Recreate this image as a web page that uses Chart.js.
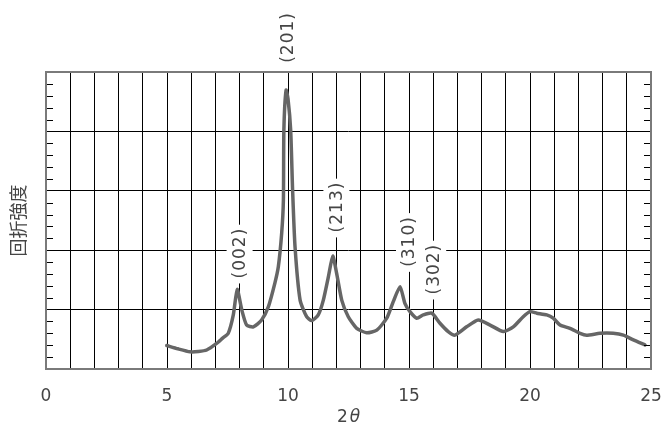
<!DOCTYPE html>
<html>
<head>
<meta charset="utf-8">
<script src="https://cdn.jsdelivr.net/npm/chart.js@4.4.1/dist/chart.umd.min.js"></script>
<style>
  html, body { margin: 0; padding: 0; background: #fff; }
  #wrap { width: 666px; height: 428px; }
</style>
</head>
<body>
<div id="wrap"><canvas id="xrd" width="666" height="428"></canvas></div>
<script>
// 2θ (degrees) and diffraction intensity (arbitrary units, 0–100)
const twoTheta = [4.99, 5.45, 5.95, 6.30, 6.64, 7.05, 7.30, 7.53, 7.74, 7.90, 8.09, 8.29, 8.57, 8.91, 9.19, 9.46, 9.60, 9.74, 9.81, 9.83, 9.92, 10.00, 10.11, 10.19, 10.29, 10.50, 10.77, 10.98, 11.25, 11.46, 11.67, 11.85, 12.01, 12.22, 12.49, 12.84, 13.25, 13.67, 14.08, 14.35, 14.63, 14.83, 15.04, 15.32, 15.59, 15.94, 16.28, 16.62, 16.90, 17.38, 17.86, 18.35, 18.90, 19.31, 19.72, 20.00, 20.28, 20.69, 20.96, 21.24, 21.65, 22.07, 22.34, 22.89, 23.44, 23.86, 24.27, 24.75];
const intensity = [7.9, 6.8, 5.8, 5.9, 6.4, 8.6, 10.4, 12.0, 18.2, 26.8, 19.9, 14.8, 14.2, 16.5, 21.0, 29.0, 34.4, 45.8, 56.9, 80.5, 93.9, 91.0, 80.5, 60.3, 41.2, 23.2, 17.6, 16.3, 18.2, 23.2, 31.1, 38.0, 32.2, 23.2, 17.6, 13.7, 12.2, 13.1, 17.1, 22.7, 27.7, 22.1, 19.3, 17.1, 18.2, 18.8, 15.4, 12.6, 11.4, 14.2, 16.5, 14.8, 12.6, 14.2, 17.6, 19.3, 18.8, 18.2, 17.1, 14.8, 13.7, 12.0, 11.4, 12.0, 12.0, 11.4, 9.8, 8.1];

// Miller-index annotations: text, 2θ position, vertical centre (intensity units)
const peakLabels = ['(002)', '(201)', '(213)', '(310)', '(302)'];
const peakLabelX = [8, 10, 12, 15, 16];
const peakLabelY = [38.7, 111.3, 54.2, 42.6, 33.3];

const xTickStep = 1;
const xLabelEvery = 5;
const yMajorStep = 20;
const yMinorStep = 4;

const axisTitleX = '2';
const axisTitleXGreek = 'θ';
const axisTitleY = '回折強度';

const TEXT = '#454545';
const FRAME = '#7a7a7a';
const NUM_FONT = '"DejaVu Sans", sans-serif';

const decorations = {
  id: 'decorations',
  afterDraw(chart) {
    const { ctx, chartArea: a, scales } = chart;
    const xs = scales.x, ys = scales.y;
    ctx.save();

    // inward minor ticks on left and right edges
    ctx.strokeStyle = '#000';
    ctx.lineWidth = 1;
    ctx.beginPath();
    for (let v = ys.min; v <= ys.max + 1e-9; v += yMinorStep) {
      if (Math.abs(v % yMajorStep) < 1e-9) continue;
      const py = Math.round(ys.getPixelForValue(v)) + 0.5;
      ctx.moveTo(a.left, py); ctx.lineTo(a.left + 7, py);
      ctx.moveTo(a.right - 7, py); ctx.lineTo(a.right, py);
    }
    ctx.stroke();

    // plot frame
    ctx.strokeStyle = FRAME;
    ctx.lineWidth = 2;
    ctx.strokeRect(a.left, a.top, a.right - a.left, a.bottom - a.top);

    // rotated peak annotations on white boxes
    ctx.font = '17px ' + NUM_FONT;
    ctx.letterSpacing = '1px';
    ctx.textAlign = 'center';
    ctx.textBaseline = 'middle';
    peakLabels.forEach((t, i) => {
      const px = xs.getPixelForValue(peakLabelX[i]);
      const py = ys.getPixelForValue(peakLabelY[i]);
      const w = ctx.measureText(t).width;
      ctx.save();
      ctx.translate(px, py);
      ctx.rotate(-Math.PI / 2);
      ctx.fillStyle = '#fff';
      ctx.fillRect(-w / 2 - 4, -13, w + 8, 26);
      ctx.fillStyle = TEXT;
      ctx.fillText(t, 1, 1);
      ctx.restore();
    });
    ctx.letterSpacing = '0px';

    // x axis title: upright "2", italic theta
    const cx = (a.left + a.right) / 2;
    ctx.textBaseline = 'middle';
    ctx.textAlign = 'left';
    ctx.font = '17px ' + NUM_FONT;
    const w2 = ctx.measureText(axisTitleX).width;
    ctx.font = 'italic 17px ' + NUM_FONT;
    const wt = ctx.measureText(axisTitleXGreek).width;
    let sx = cx - (w2 + wt + 2) / 2;
    ctx.fillStyle = TEXT;
    ctx.font = '17px ' + NUM_FONT;
    ctx.fillText(axisTitleX, sx, 418);
    ctx.font = 'italic 17px ' + NUM_FONT;
    ctx.fillText(axisTitleXGreek, sx + w2 + 2, 418);

    // y axis title, rotated
    ctx.save();
    ctx.translate(18, (a.top + a.bottom) / 2);
    ctx.rotate(-Math.PI / 2);
    ctx.textAlign = 'center';
    ctx.font = '18px "Noto Sans CJK JP", sans-serif';
    ctx.fillText(axisTitleY, 0, 0);
    ctx.restore();

    ctx.restore();
  }
};

new Chart(document.getElementById('xrd'), {
  type: 'line',
  data: {
    datasets: [{
      data: twoTheta.map((x, i) => ({ x, y: intensity[i] })),
      borderColor: '#666666',
      borderWidth: 3.5,
      pointRadius: 0,
      tension: 0.2,
      borderCapStyle: 'round',
      borderJoinStyle: 'round',
      fill: false
    }]
  },
  options: {
    responsive: false,
    animation: false,
    devicePixelRatio: 1,
    layout: { padding: { top: 72, right: 15, left: 0, bottom: 0 } },
    plugins: { legend: { display: false }, tooltip: { enabled: false } },
    scales: {
      x: {
        type: 'linear',
        min: 0, max: 25,
        border: { display: false },
        grid: { color: '#000', lineWidth: 1, drawTicks: false },
        ticks: {
          stepSize: xTickStep,
          autoSkip: false,
          maxRotation: 0,
          padding: 17,
          color: TEXT,
          font: { family: NUM_FONT, size: 17 },
          callback: v => (v % xLabelEvery === 0 ? String(v) : '')
        },
        afterFit(scale) {
          scale.height = 59;
          scale.paddingLeft = 0;
          scale.paddingRight = 0;
        }
      },
      y: {
        min: 0, max: 100,
        border: { display: false },
        grid: { color: '#000', lineWidth: 1, drawTicks: false },
        ticks: { stepSize: yMajorStep, display: false },
        afterFit(scale) { scale.width = 46; }
      }
    }
  },
  plugins: [decorations]
});
</script>
</body>
</html>
